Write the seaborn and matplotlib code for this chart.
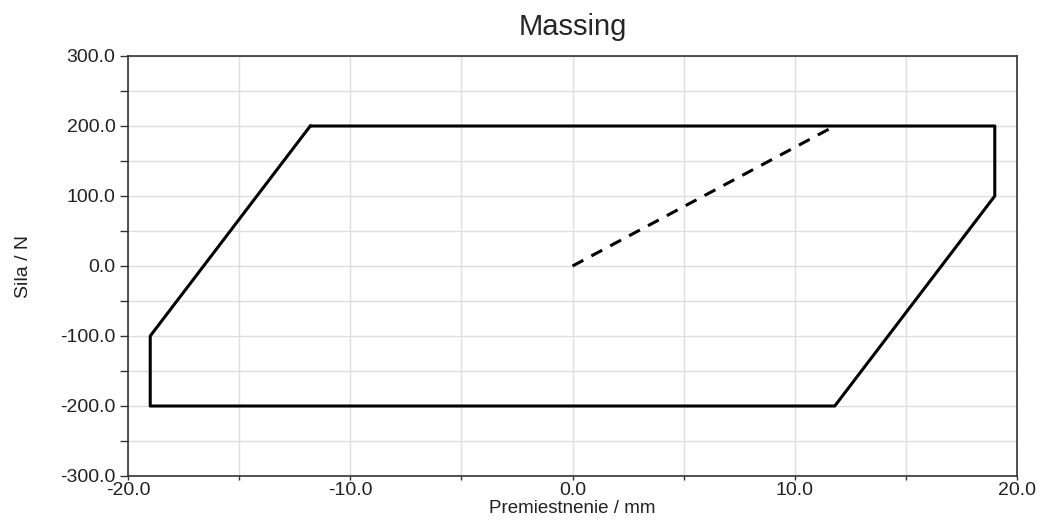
import matplotlib
matplotlib.use("Agg")
import matplotlib.pyplot as plt
from matplotlib.ticker import MultipleLocator
import seaborn as sns
import pandas as pd

# hysteresis loop (closed) and initial loading branch
loop_x = [-11.8, 19.0, 19.0, 11.8, -19.0, -19.0, -11.8]
loop_y = [200.0, 200.0, 100.0, -200.0, -200.0, -100.0, 200.0]
init_x = [0.0, 11.8]
init_y = [0.0, 200.0]

x_ticks = [-20.0, -10.0, 0.0, 10.0, 20.0]
y_ticks = [-300.0, -200.0, -100.0, 0.0, 100.0, 200.0, 300.0]

sns.set_style("white")
plt.rcParams["font.family"] = ["Liberation Sans", "DejaVu Sans"]

fig = plt.figure(figsize=(10.4, 5.3), dpi=100)
ax = fig.add_axes([128 / 1040, 1 - 476 / 530, 889 / 1040, 420 / 530])

loop_df = pd.DataFrame({"x": loop_x, "y": loop_y})
init_df = pd.DataFrame({"x": init_x, "y": init_y})

sns.lineplot(data=loop_df, x="x", y="y", sort=False, estimator=None,
             color="black", linewidth=2.2, ax=ax)
sns.lineplot(data=init_df, x="x", y="y", sort=False, estimator=None,
             color="black", linewidth=2.2, linestyle=(0, (4, 3)), ax=ax)

ax.set_xlim(-20, 20)
ax.set_ylim(-300, 300)
ax.set_xticks(x_ticks)
ax.set_yticks(y_ticks)
ax.set_xticklabels([f"{v:.1f}" for v in x_ticks])
ax.set_yticklabels([f"{v:.1f}" for v in y_ticks])
ax.xaxis.set_minor_locator(MultipleLocator(5))
ax.yaxis.set_minor_locator(MultipleLocator(50))

ax.grid(True, which="both", color="#dedede", linewidth=1)
ax.set_axisbelow(True)
ax.tick_params(axis="y", which="both", direction="out", length=6, width=1,
               color="#333333", left=True, pad=3)
ax.tick_params(axis="x", which="both", direction="out", length=3, width=1,
               color="#333333", bottom=True, pad=1)
ax.tick_params(which="major", labelsize=14, labelcolor="#222222")
for side in ["left", "bottom", "top", "right"]:
    ax.spines[side].set_color("#333333")
    ax.spines[side].set_linewidth(1.2)

ax.set_xlabel("Premiestnenie / mm", fontsize=13.5, color="#222222", labelpad=1)
ax.set_ylabel("Sila / N", fontsize=14, color="#222222", labelpad=20)
ax.set_title("Massing", fontsize=21, pad=15)

fig.savefig("out.png", dpi=100)
